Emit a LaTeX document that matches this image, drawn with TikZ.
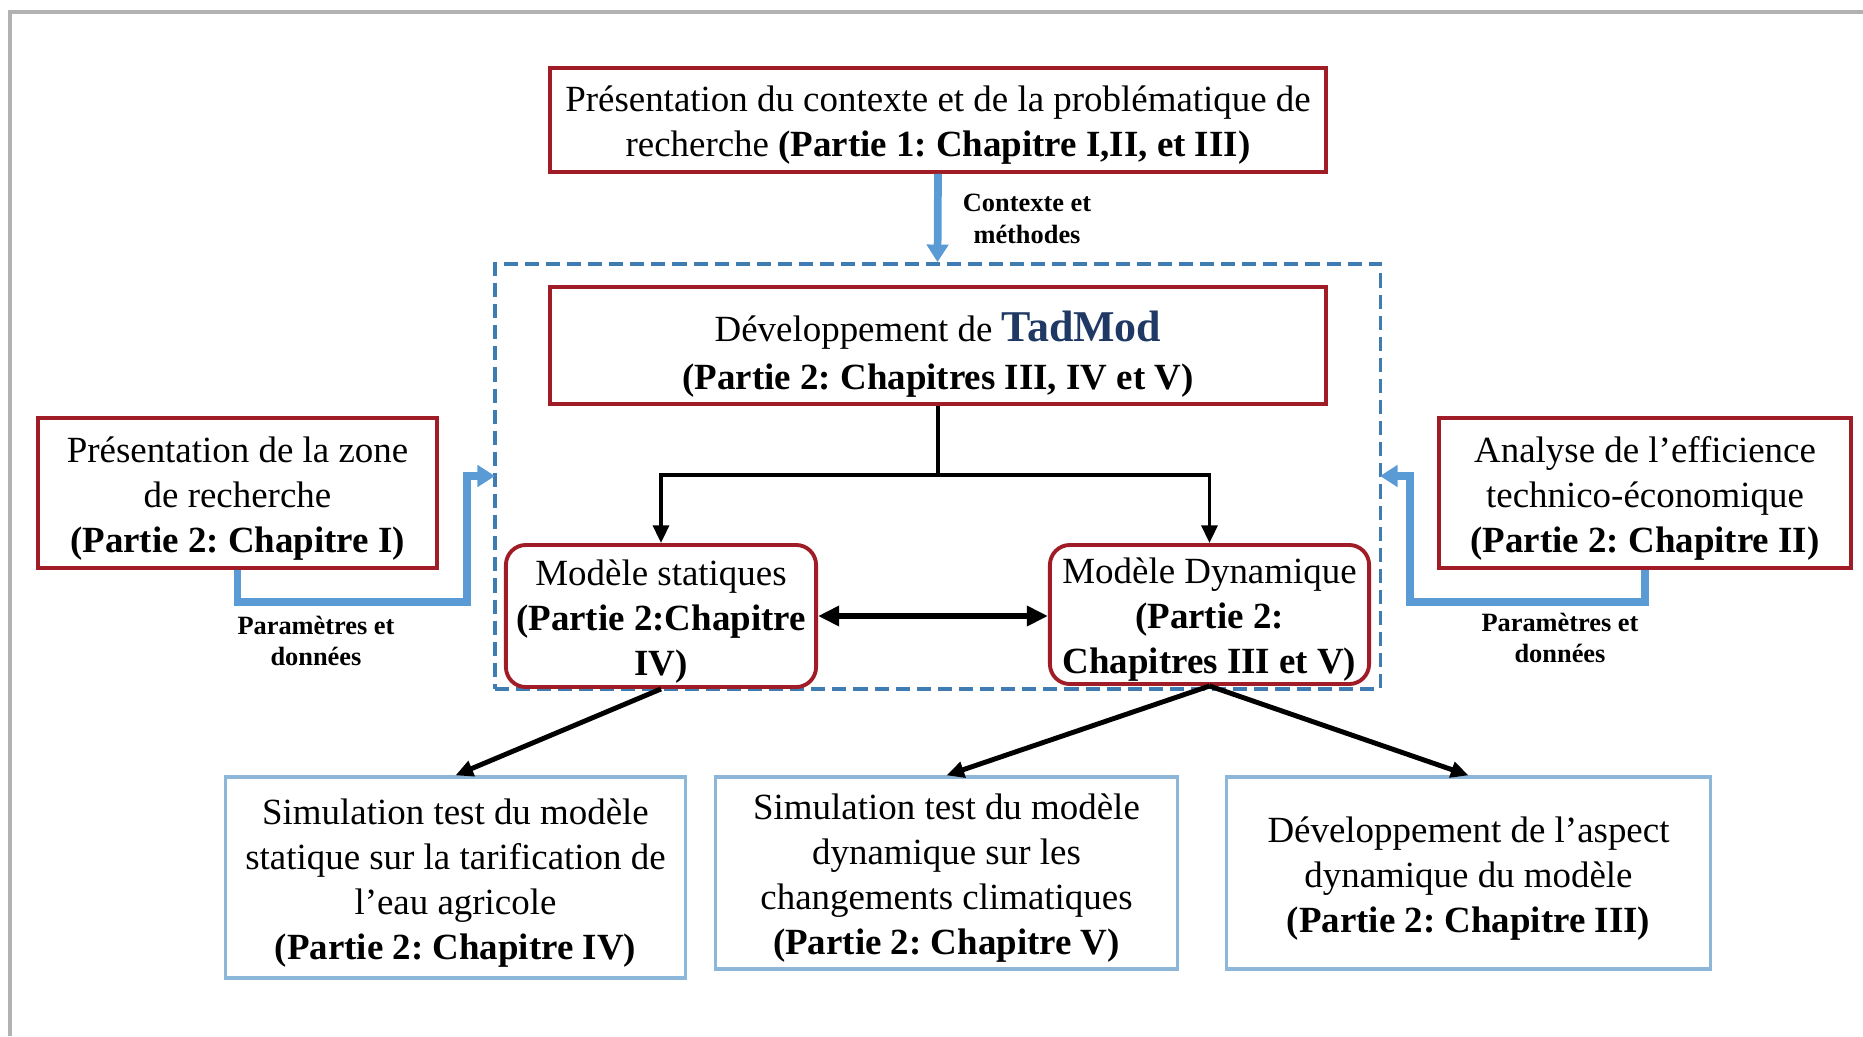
\documentclass[tikz,border=0pt]{standalone}
\usepackage{fontspec}
\setmainfont{Liberation Serif}
\frenchspacing
\usetikzlibrary{arrows.meta}
\definecolor{rougebord}{RGB}{160,28,38}
\definecolor{bleufleche}{RGB}{91,155,213}
\definecolor{bleucadre}{RGB}{62,124,177}
\definecolor{bleuclair}{RGB}{140,182,218}
\definecolor{marine}{RGB}{31,56,100}
\newcommand{\haut}{\rule{0pt}{10.4pt}}
\begin{document}
\begin{tikzpicture}[x=0.01cm, y=-0.01cm,
                boiterouge/.style={draw=rougebord, line width=1.1pt, align=center, inner sep=0pt, font=\fontsize{10.5}{12.8}\selectfont},
                boiteronde/.style={boiterouge, rounded corners=0.2cm},
                boitebleue/.style={draw=bleuclair, line width=0.9pt, align=center, inner sep=0pt, font=\fontsize{10.5}{12.8}\selectfont},
                etiquette/.style={align=center, font=\fontsize{7.5}{9}\selectfont\bfseries},
                flechenoire/.style={line width=1pt, -{Triangle[length=5pt,width=4.5pt]}},
                flechebleue/.style={draw=bleufleche, line width=2.2pt, -{Triangle[length=5pt,width=6pt]}}]
                \useasboundingbox (0,0) rectangle (1863,1036);
                \draw[gray!60, line width=1pt] (1863,12) -- (10,12) -- (10,1036);
                \node[draw=bleucadre, dash pattern=on 4pt off 2pt, line width=1pt, minimum width=8.85cm, minimum height=4.25cm] (cadre) at (937.5,476.5) {};
                \node[boiterouge, minimum width=7.76cm, minimum height=1.04cm] (contexte) at (938,120) {\haut Présentation du contexte et de la problématique de\\recherche \textbf{(Partie 1: Chapitre I,II, et III)}};
                \node[boiterouge, minimum width=7.76cm, minimum height=1.17cm] (tadmod) at (938,345.5) {\rule{0pt}{13.5pt}Développement de \textbf{\fontsize{12.5}{13}\selectfont\color{marine}TadMod}\\[1pt]\textbf{(Partie 2: Chapitres III, IV et V)}};
                \node[boiterouge, minimum width=3.99cm, minimum height=1.5cm] (zone) at (237.5,493) {\haut Présentation de la zone\\de recherche\\\textbf{(Partie 2: Chapitre I)}};
                \node[boiterouge, minimum width=4.12cm, minimum height=1.5cm] (efficience) at (1645,493) {\haut Analyse de l’efficience\\technico-économique\\\textbf{(Partie 2: Chapitre II)}};
                \node[boiteronde, minimum width=3.1cm, minimum height=1.42cm] (statique) at (661,616) {\haut Modèle statiques\\\textbf{(Partie 2:Chapitre}\\\textbf{IV)}};
                \node[boiteronde, minimum width=3.19cm, minimum height=1.39cm] (dynamique) at (1209.5,614.5) {\haut Modèle Dynamique\\\textbf{(Partie 2:}\\\textbf{Chapitres III et V)}};
                \node[boitebleue, minimum width=4.59cm, minimum height=2.01cm] (tarif) at (455.5,877.5) {\haut Simulation test du modèle\\statique sur la tarification de\\l’eau agricole\\\textbf{(Partie 2: Chapitre IV)}};
                \node[boitebleue, minimum width=4.61cm, minimum height=1.92cm] (climat) at (946.5,873) {\haut Simulation test du modèle\\dynamique sur les\\changements climatiques\\\textbf{(Partie 2: Chapitre V)}};
                \node[boitebleue, minimum width=4.83cm, minimum height=1.92cm] (aspect) at (1468.5,873) {\haut Développement de l’aspect\\dynamique du modèle\\\textbf{(Partie 2: Chapitre III)}};
                \node[etiquette] (lblcontexte) at (1027,219) {Contexte et\\méthodes};
                \node[etiquette] (lblzone) at (316,641) {Paramètres et\\données};
                \node[etiquette] (lblefficience) at (1560,638) {Paramètres et\\données};
                \coordinate (embranche) at (938,475);
                \coordinate (zone1) at (467,602);
                \coordinate (zone2) at (495,476);
                \coordinate (eff1) at (1410,602);
                \coordinate (eff2) at (1380,476);
                \draw[flechebleue] (contexte.south) -- (cadre.north);
                \draw[flechebleue] (zone.south) |- (zone1) |- (zone2);
                \draw[flechebleue] (efficience.south) |- (eff1) |- (eff2);
                \draw[line width=1pt] (tadmod.south) -- (embranche);
                \draw[flechenoire] (embranche) -| (statique.north);
                \draw[flechenoire] (embranche) -| (dynamique.north);
                \draw[line width=1.6pt, {Triangle[length=6pt,width=5.5pt]}-{Triangle[length=6pt,width=5.5pt]}] (statique.east) -- (statique.east -| dynamique.west);
                \draw[flechenoire, line width=1.4pt] (statique.south) -- (tarif.north);
                \draw[flechenoire, line width=1.4pt] (dynamique.south) -- (climat.north);
                \draw[flechenoire, line width=1.4pt] (dynamique.south) -- (aspect.north);
            \end{tikzpicture}
\end{document}
